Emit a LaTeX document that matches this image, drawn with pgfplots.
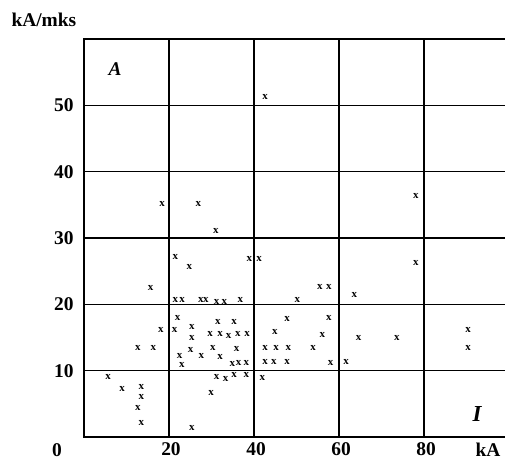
\documentclass[border=0pt]{standalone}
\usepackage{pgfplots}
\pgfplotsset{compat=1.18}
\usepackage{fontspec}
\setmainfont{Liberation Serif}
\begin{document}
\begin{tikzpicture}
\begin{axis}[
  scale only axis,
  width=425bp, height=398bp,
  xmin=0, xmax=100, ymin=0, ymax=60,
  xtick={20,40,60,80}, ytick={10,20,30,40,50},
  major tick length=0pt,
  grid=major,
  grid style={black, line width=1.3bp},
  axis line style={black, line width=1.3bp},
  /pgf/number format/assume math mode=true,
  tick label style={font=\bfseries\fontsize{19.5}{20}\selectfont},
  xticklabel style={yshift=-2bp, xshift=2bp},
  yticklabel style={xshift=-7bp},
  clip=false,
]
\addplot[only marks, mark=text, text mark={\bfseries\fontsize{11}{11}\selectfont x}, black]
coordinates {
(5.7,9.0) (8.95,7.3) (13.5,7.6) (13.5,6.1) (12.7,4.3) (13.5,2.1)
(12.7,13.4) (16.3,13.4) (18.1,16.2) (15.7,22.4) (18.4,35.2)
(26.9,35.2) (31.0,31.0) (21.5,27.1) (24.8,25.6) (38.9,26.9) (41.2,26.9)
(21.5,20.7) (23.1,20.7) (27.5,20.7) (28.7,20.7) (31.2,20.35) (33.0,20.35) (36.8,20.7)
(22.0,17.9) (21.35,16.2) (25.4,16.6) (31.5,17.4) (35.3,17.4)
(25.4,14.9) (29.7,15.5) (32.0,15.5) (34.0,15.3) (36.2,15.5) (38.4,15.5)
(22.5,12.2) (25.1,13.1) (27.6,12.2) (30.3,13.4) (32.0,12.0) (35.9,13.3)
(23.0,10.8) (34.9,11.0) (36.4,11.1) (38.2,11.1)
(31.2,9.0) (33.3,8.8) (35.3,9.3) (38.2,9.3)
(29.9,6.7) (25.4,1.3)
(42.6,51.2) (78.1,36.3) (78.1,26.2)
(55.5,22.6) (57.6,22.6) (50.2,20.7) (63.6,21.4)
(47.8,17.8) (57.6,17.9) (44.9,15.8) (56.1,15.4) (64.6,14.9) (73.6,14.9)
(90.4,16.2) (90.4,13.4)
(42.6,13.4) (45.2,13.4) (48.1,13.4) (53.9,13.4)
(42.6,11.3) (44.7,11.3) (47.8,11.3) (58.0,11.2) (61.7,11.35)
(41.95,8.9)
};
\coordinate (bl) at (rel axis cs:0,0);
\node[font=\bfseries\itshape\fontsize{19.5}{20}\selectfont] at (axis cs:7.3,55.5) {A};
\node[font=\bfseries\itshape\fontsize{23}{24}\selectfont] at (axis cs:92.5,3.5) {I};
\end{axis}
\node[font=\bfseries\fontsize{19.5}{20}\selectfont] at ([shift={(-27bp,-13bp)}]bl) {0};
\node[font=\bfseries\fontsize{19.5}{20}\selectfont] at ([shift={(404bp,-13bp)}]bl) {kA};
\node[font=\bfseries\fontsize{19.5}{20}\selectfont, anchor=west] at ([shift={(-76bp,417bp)}]bl) {kA/mks};
\pgfresetboundingbox
\path[use as bounding box] ([shift={(-84bp,-25bp)}]bl) rectangle ([shift={(421bp,437bp)}]bl);
\end{tikzpicture}
\end{document}
